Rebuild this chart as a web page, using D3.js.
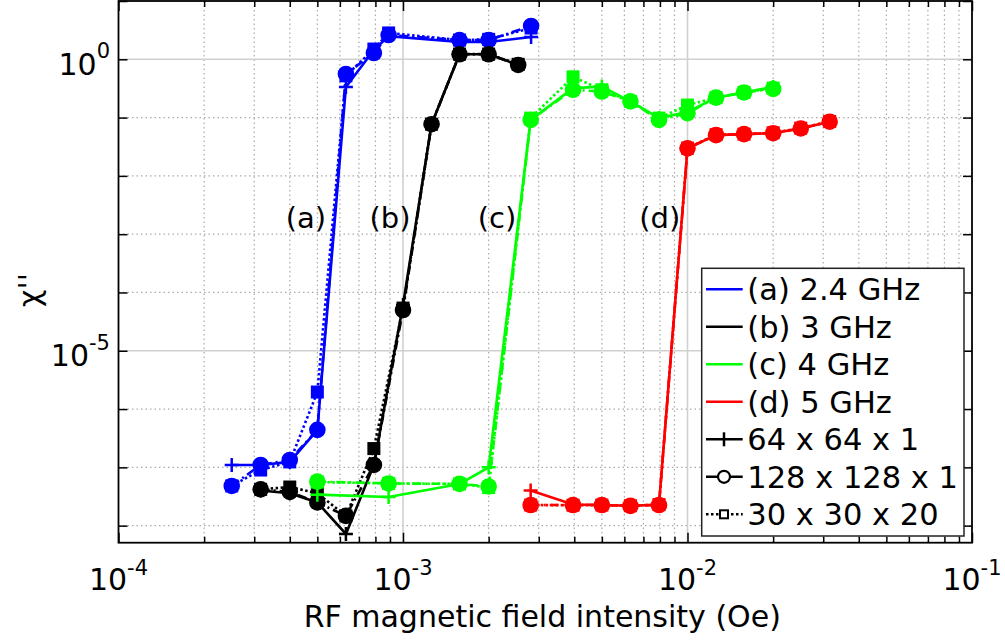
<!DOCTYPE html>
<html><head><meta charset="utf-8">
<script src="https://cdn.jsdelivr.net/npm/d3@7"></script>
<style>body{margin:0;background:#fff}svg{display:block;font-family:"DejaVu Sans",sans-serif}</style>
</head><body><svg id="c" width="1005" height="642"></svg>
<script>
// ---- data ----
const xA = [2.5e-4, 3.16e-4, 4e-4, 5e-4, 6.3e-4, 7.9e-4, 8.9e-4, 1.58e-3, 2e-3, 2.82e-3];
const a64  = [1.1e-7, 1.1e-7, 1.24e-7, 4.4e-7, 0.335, 1.44, 2.5, 1.98, 1.98, 2.41];
const a128 = [4.8e-8, 1.1e-7, 1.34e-7, 4.4e-7, 0.56, 1.28, 2.61, 2.14, 2.14, 3.73];
const a30  = [4.8e-8, 9.0e-8, 1.24e-7, 1.96e-6, 0.52, 1.5, 2.83, 2.14, 2.2, 3.44];

const xB = [3.16e-4, 4e-4, 5e-4, 6.3e-4, 7.9e-4, 1e-3, 1.26e-3, 1.58e-3, 2e-3, 2.54e-3];
const b64  = [4.0e-8, 3.6e-8, 2.5e-8, 7.2e-9, 1.1e-7, 6.1e-5, 0.077, 1.22, 1.22, 0.80];
const b128 = [4.2e-8, 3.8e-8, 2.5e-8, 1.47e-8, 1.1e-7, 5.0e-5, 0.077, 1.22, 1.22, 0.80];
const b30  = [4.2e-8, 4.6e-8, 3.6e-8, 1.47e-8, 2.1e-7, 5.4e-5, 0.077, 1.23, 1.23, 0.82];

const xC = [5e-4, 8.9e-4, 1.58e-3, 2e-3, 2.81e-3, 3.96e-3, 5e-3, 6.3e-3, 7.94e-3, 1e-2, 1.26e-2, 1.58e-2, 2e-2];
const c64  = [3.4e-8, 3.1e-8, 5.2e-8, 1.0e-7, 0.091, 0.32, 0.34, 0.19, 0.098, 0.125, 0.22, 0.27, 0.335];
const c128 = [5.7e-8, 5.3e-8, 5.2e-8, 4.7e-8, 0.091, 0.30, 0.28, 0.19, 0.091, 0.119, 0.22, 0.27, 0.31];
const c30  = [5.6e-8, 5.3e-8, 5.2e-8, 4.5e-8, 0.098, 0.50, 0.30, 0.19, 0.098, 0.164, 0.22, 0.27, 0.32];

const xD = [2.81e-3, 3.96e-3, 5e-3, 6.3e-3, 7.94e-3, 1e-2, 1.26e-2, 1.58e-2, 2e-2, 2.5e-2, 3.16e-2];
const d64  = [4.0e-8, 2.3e-8, 2.26e-8, 2.2e-8, 2.3e-8, 0.0297, 0.050, 0.052, 0.054, 0.065, 0.085];
const d128 = [2.26e-8, 2.26e-8, 2.26e-8, 2.18e-8, 2.26e-8, 0.0297, 0.050, 0.052, 0.054, 0.065, 0.085];
const d30  = [2.26e-8, 2.24e-8, 2.26e-8, 2.2e-8, 2.3e-8, 0.0300, 0.051, 0.052, 0.055, 0.066, 0.086];

const freqLabels = ["(a) 2.4 GHz", "(b) 3 GHz", "(c) 4 GHz", "(d) 5 GHz"];
const freqColors = ["#0000ff", "#000000", "#00ff00", "#ff0000"];
const meshLabels = ["64 x 64 x 1", "128 x 128 x 1", "30 x 30 x 20"];
const annLabels = ["(a)", "(b)", "(c)", "(d)"];
const annX = [4.56e-4, 9.0e-4, 2.14e-3, 7.99e-3];
const annY = 1.9e-3;
const xTicks = [1e-4, 1e-3, 1e-2, 1e-1];
const xTickExp = ["-4", "-3", "-2", "-1"];
const yTicks = [1, 1e-5];
const yTickExp = ["0", "-5"];
const xLabel = "RF magnetic field intensity (Oe)";
const yLabel = "\u03C7''";

// ---- layout ----
const L = 118.5, R = 972, T = 1, B = 542.7;
const x = d3.scaleLog().domain([1e-4, 1e-1]).range([L, R]);
const y = d3.scaleLog().domain([5.1e-9, 10]).range([B, T]);
const svg = d3.select("#c");

// grid
const xMinor = [];
for (let d = -4; d < -1; d++) for (let m = 2; m <= 9; m++) xMinor.push(m * Math.pow(10, d));
const yDecades = d3.range(-8, 2).map(e => Math.pow(10, e));
const yMinor = yDecades.filter(v => !yTicks.some(t => Math.abs(Math.log10(t) - Math.log10(v)) < 1e-9));
const g = svg.append("g");
g.selectAll(".xm").data(xMinor).join("line").attr("x1", d => x(d)).attr("x2", d => x(d)).attr("y1", T).attr("y2", B)
  .attr("stroke", "#aaa").attr("stroke-width", 1.2).attr("stroke-dasharray", "1.5,3");
g.selectAll(".ym").data(yMinor).join("line").attr("y1", d => y(d)).attr("y2", d => y(d)).attr("x1", L).attr("x2", R)
  .attr("stroke", "#aaa").attr("stroke-width", 1.2).attr("stroke-dasharray", "1.5,3");
g.selectAll(".xM").data([1e-3, 1e-2]).join("line").attr("x1", d => x(d)).attr("x2", d => x(d)).attr("y1", T).attr("y2", B)
  .attr("stroke", "#d0d0d0").attr("stroke-width", 1.6);
g.selectAll(".yM").data(yTicks).join("line").attr("y1", d => y(d)).attr("y2", d => y(d)).attr("x1", L).attr("x2", R)
  .attr("stroke", "#d0d0d0").attr("stroke-width", 1.6);

// axes ticks (inward)
function styleAxis(sel) { sel.select(".domain").remove(); sel.selectAll("line").attr("stroke", "#000").attr("stroke-width", 1.5); sel.selectAll("text").remove(); }
svg.append("g").attr("transform", `translate(0,${B})`).call(d3.axisBottom(x).tickValues(xTicks).tickSize(-10)).call(styleAxis);
svg.append("g").attr("transform", `translate(0,${B})`).call(d3.axisBottom(x).tickValues(xMinor).tickSize(-6)).call(styleAxis);
svg.append("g").attr("transform", `translate(0,${T})`).call(d3.axisTop(x).tickValues(xTicks).tickSize(-10)).call(styleAxis);
svg.append("g").attr("transform", `translate(0,${T})`).call(d3.axisTop(x).tickValues(xMinor).tickSize(-6)).call(styleAxis);
svg.append("g").attr("transform", `translate(${L},0)`).call(d3.axisLeft(y).tickValues(yDecades).tickSize(-9)).call(styleAxis);
svg.append("g").attr("transform", `translate(${R},0)`).call(d3.axisRight(y).tickValues(yDecades).tickSize(-9)).call(styleAxis);

// series
const groups = [
  {xs: xA, ys: [a64, a128, a30]},
  {xs: xB, ys: [b64, b128, b30]},
  {xs: xC, ys: [c64, c128, c30]},
  {xs: xD, ys: [d64, d128, d30]}
];
const dashes = [null, "9,4,2,4", "2.5,2.5"];
const plot = svg.append("g");
const line = d3.line().x(d => x(d[0])).y(d => y(d[1]));
function marker(sel, k, col, pts) {
  if (k === 0) {
    sel.selectAll(null).data(pts).join("path")
      .attr("d", d => `M${x(d[0]) - 7},${y(d[1])}H${x(d[0]) + 7}M${x(d[0])},${y(d[1]) - 7}V${y(d[1]) + 7}`)
      .attr("stroke", col).attr("stroke-width", 2.5).attr("fill", "none");
  } else if (k === 1) {
    sel.selectAll(null).data(pts).join("circle").attr("cx", d => x(d[0])).attr("cy", d => y(d[1])).attr("r", 8.3).attr("fill", col);
  } else {
    sel.selectAll(null).data(pts).join("rect").attr("x", d => x(d[0]) - 6.5).attr("y", d => y(d[1]) - 6.5)
      .attr("width", 13).attr("height", 13).attr("fill", col);
  }
}
groups.forEach((gr, i) => {
  const col = freqColors[i];
  gr.ys.forEach((ys, k) => {
    const pts = gr.xs.map((xv, j) => [xv, ys[j]]).filter(p => p[1] != null);
    const sg = plot.append("g");
    sg.append("path").attr("d", line(pts)).attr("fill", "none").attr("stroke", col).attr("stroke-width", 2.6)
      .attr("stroke-dasharray", dashes[k]);
    marker(sg, k, col, pts);
  });
});

// frame
svg.append("rect").attr("x", L).attr("y", T).attr("width", R - L).attr("height", B - T)
  .attr("fill", "none").attr("stroke", "#000").attr("stroke-width", 1.8);

// tick labels
xTicks.forEach((v, i) => {
  const t = svg.append("text").attr("x", x(v)).attr("y", 590).attr("text-anchor", "middle").attr("font-size", 30);
  t.append("tspan").text("10");
  t.append("tspan").attr("font-size", 21).attr("dy", -15).text(xTickExp[i]);
});
yTicks.forEach((v, i) => {
  const t = svg.append("text").attr("x", 110).attr("y", y(v) + 15.7).attr("text-anchor", "end").attr("font-size", 30);
  t.append("tspan").text("10");
  t.append("tspan").attr("font-size", 21).attr("dy", -16.5).text(yTickExp[i]);
});

// axis labels
svg.append("text").attr("x", (L + R) / 2 - 3).attr("y", 627).attr("text-anchor", "middle").attr("font-size", 30).text(xLabel);
svg.append("text").attr("transform", "translate(40,290) rotate(-90)").attr("text-anchor", "middle").attr("font-size", 30).text(yLabel);

// annotations
annLabels.forEach((s, i) => {
  svg.append("text").attr("x", x(annX[i])).attr("y", y(annY)).attr("dy", "0.36em").attr("text-anchor", "middle")
    .attr("font-size", 29).text(s);
});

// legend
const lg = svg.append("g");
lg.append("rect").attr("x", 701.7).attr("y", 268.3).attr("width", 262.3).attr("height", 267.7)
  .attr("fill", "#fff").attr("stroke", "#222").attr("stroke-width", 1.5);
const rows = freqLabels.map((s, i) => ({s, col: freqColors[i], k: -1}))
  .concat(meshLabels.map((s, k) => ({s, col: "#000", k})));
rows.forEach((r, i) => {
  const cy = 289.3 + 37.5 * i;
  lg.append("line").attr("x1", 706).attr("x2", 742.7).attr("y1", cy).attr("y2", cy)
    .attr("stroke", r.col).attr("stroke-width", 2.6).attr("stroke-dasharray", r.k === 2 ? "2.5,2.5" : null);
  if (r.k === 0) lg.append("path").attr("d", `M724,${cy - 7}V${cy + 7}`).attr("stroke", "#000").attr("stroke-width", 2.5);
  if (r.k === 1) lg.append("circle").attr("cx", 724).attr("cy", cy).attr("r", 6).attr("fill", "#fff").attr("stroke", "#000").attr("stroke-width", 2.2);
  if (r.k === 2) lg.append("rect").attr("x", 720).attr("y", cy - 4).attr("width", 8).attr("height", 8).attr("fill", "#fff").attr("stroke", "#000").attr("stroke-width", 2);
  lg.append("text").attr("x", 747.3).attr("y", cy).attr("dy", "0.36em").attr("font-size", 30.5).text(r.s);
});
</script></body></html>
